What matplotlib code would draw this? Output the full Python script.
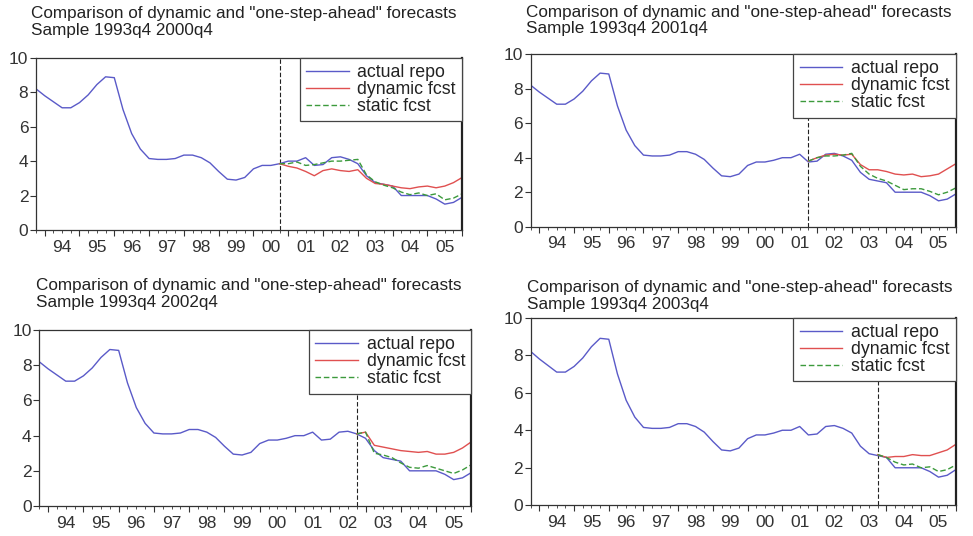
import numpy as np
import pandas as pd
import matplotlib
matplotlib.use('Agg')
import matplotlib.pyplot as plt

plt.rcParams['font.family'] = ['Liberation Sans', 'DejaVu Sans']

# quarterly sample 1993q4 .. 2006q1
periods = pd.period_range('1993Q4', '2006Q1', freq='Q')

actual_repo = [8.2,
               7.8, 7.45, 7.1, 7.1,
               7.4, 7.85, 8.45, 8.9,
               8.85, 7.0, 5.6, 4.7,
               4.15, 4.1, 4.1, 4.15,
               4.35, 4.35, 4.2, 3.9,
               3.4, 2.95, 2.9, 3.05,
               3.55, 3.75, 3.75, 3.85,
               4.0, 4.0, 4.2, 3.75,
               3.8, 4.2, 4.25, 4.1,
               3.85, 3.15, 2.75, 2.65,
               2.55, 2.0, 2.0, 2.0,
               2.0, 1.8, 1.5, 1.6,
               1.9]

sample_ends = ['2000Q4', '2001Q4', '2002Q4', '2003Q4']

dynamic_fcst = [
    [3.85, 3.7, 3.6, 3.4, 3.15, 3.45, 3.55, 3.45, 3.4, 3.5, 3.0, 2.7, 2.65,
     2.55, 2.45, 2.4, 2.5, 2.55, 2.45, 2.55, 2.75, 3.05],
    [3.8, 4.0, 4.15, 4.2, 4.15, 4.2, 3.6, 3.3, 3.3, 3.2, 3.05, 3.0, 3.05,
     2.9, 2.95, 3.05, 3.35, 3.65],
    [4.1, 4.2, 3.45, 3.35, 3.25, 3.15, 3.1, 3.05, 3.1, 2.95, 2.95, 3.05,
     3.3, 3.65],
    [2.7, 2.55, 2.6, 2.6, 2.7, 2.65, 2.65, 2.8, 2.95, 3.25],
]

static_fcst = [
    [3.85, 3.85, 3.95, 3.75, 3.8, 3.9, 4.0, 4.0, 4.05, 4.1, 3.2, 2.8, 2.6,
     2.45, 2.2, 2.05, 2.15, 2.0, 2.1, 1.75, 1.85, 2.1],
    [3.8, 4.0, 4.1, 4.1, 4.15, 4.25, 3.5, 3.05, 2.8, 2.65, 2.4, 2.15, 2.2,
     2.2, 2.05, 1.85, 2.0, 2.25],
    [4.1, 4.2, 3.0, 2.9, 2.75, 2.45, 2.2, 2.15, 2.3, 2.15, 2.0, 1.85, 2.05,
     2.35],
    [2.7, 2.55, 2.3, 2.15, 2.2, 2.0, 2.05, 1.8, 1.9, 2.15],
]

year_labels = ['94', '95', '96', '97', '98', '99', '00', '01', '02', '03', '04', '05']
y_ticks = [0, 2, 4, 6, 8, 10]


def to_year(p):
    return p.year + (p.quarter - 1) / 4


t = np.array([to_year(p) for p in periods])

# axes boxes in figure fractions [left, bottom, width, height]
boxes = [[0.037, 0.571, 0.438, 0.321],
         [0.5454, 0.577, 0.437, 0.322],
         [0.0404, 0.056, 0.444, 0.328],
         [0.5454, 0.0573, 0.437, 0.350]]
title_pos = [(0.032, 0.988), (0.541, 0.991), (0.037, 0.481), (0.542, 0.477)]

fig = plt.figure(figsize=(9.73, 5.36), dpi=100)

for k in range(4):
    ax = fig.add_axes(boxes[k])
    start = to_year(pd.Period(sample_ends[k], freq='Q'))
    tf = t[t >= start - 1e-9]

    ax.plot(t, actual_repo, color='#5a5ac8', lw=1.0, label='actual repo')
    ax.plot(tf, dynamic_fcst[k], color='#e05050', lw=1.0, label='dynamic fcst')
    ax.plot(tf, static_fcst[k], color='#3c9a3c', lw=1.0, ls=(0, (4, 2)),
            label='static fcst')
    ax.axvline(start, color='#222222', lw=0.8, ls=(0, (4, 2)), zorder=1)

    ax.set_xlim(t[0], t[-1])
    ax.set_ylim(0, 10)
    ax.set_yticks(y_ticks)
    ax.set_yticklabels([str(v) for v in y_ticks])

    ax.set_xticks(np.arange(1994, 2006 + 1))
    ax.set_xticks(t, minor=True)
    ax.set_xticklabels([])
    ax.tick_params(axis='x', which='major', length=4, width=0.8, color='#333333')
    ax.tick_params(axis='x', which='minor', length=2, width=0.6, color='#333333')
    ax.tick_params(axis='y', length=4, width=0.8, color='#333333',
                   labelsize=12.5, labelcolor='#333333', pad=1.5)

    sec = ax.secondary_xaxis('bottom')
    sec.set_xticks(np.arange(1994, 2006) + 0.5)
    sec.set_xticklabels(year_labels)
    sec.tick_params(length=0, labelsize=12.5, labelcolor='#333333', pad=7)
    sec.spines['bottom'].set_visible(False)

    for side in ['left', 'bottom', 'top']:
        ax.spines[side].set_color('#333333')
        ax.spines[side].set_linewidth(0.9)
    ax.spines['right'].set_color('#222222')
    ax.spines['right'].set_linewidth(1.6)

    leg = ax.legend(loc='upper right', borderaxespad=0, fancybox=False,
                    framealpha=1, edgecolor='#444444', fontsize=12.8,
                    handlelength=2.4, handletextpad=0.5, labelspacing=0.0,
                    borderpad=0.35)
    leg.get_frame().set_linewidth(0.9)
    for txt in leg.get_texts():
        txt.set_color('#222222')

    x0, y0 = title_pos[k]
    fig.text(x0, y0, 'Comparison of dynamic and "one-step-ahead" forecasts\n'
             'Sample 1993q4 ' + sample_ends[k].replace('Q', 'q'),
             ha='left', va='top', fontsize=12.3, color='#222222',
             linespacing=1.12)

fig.savefig('out.png', dpi=100)
